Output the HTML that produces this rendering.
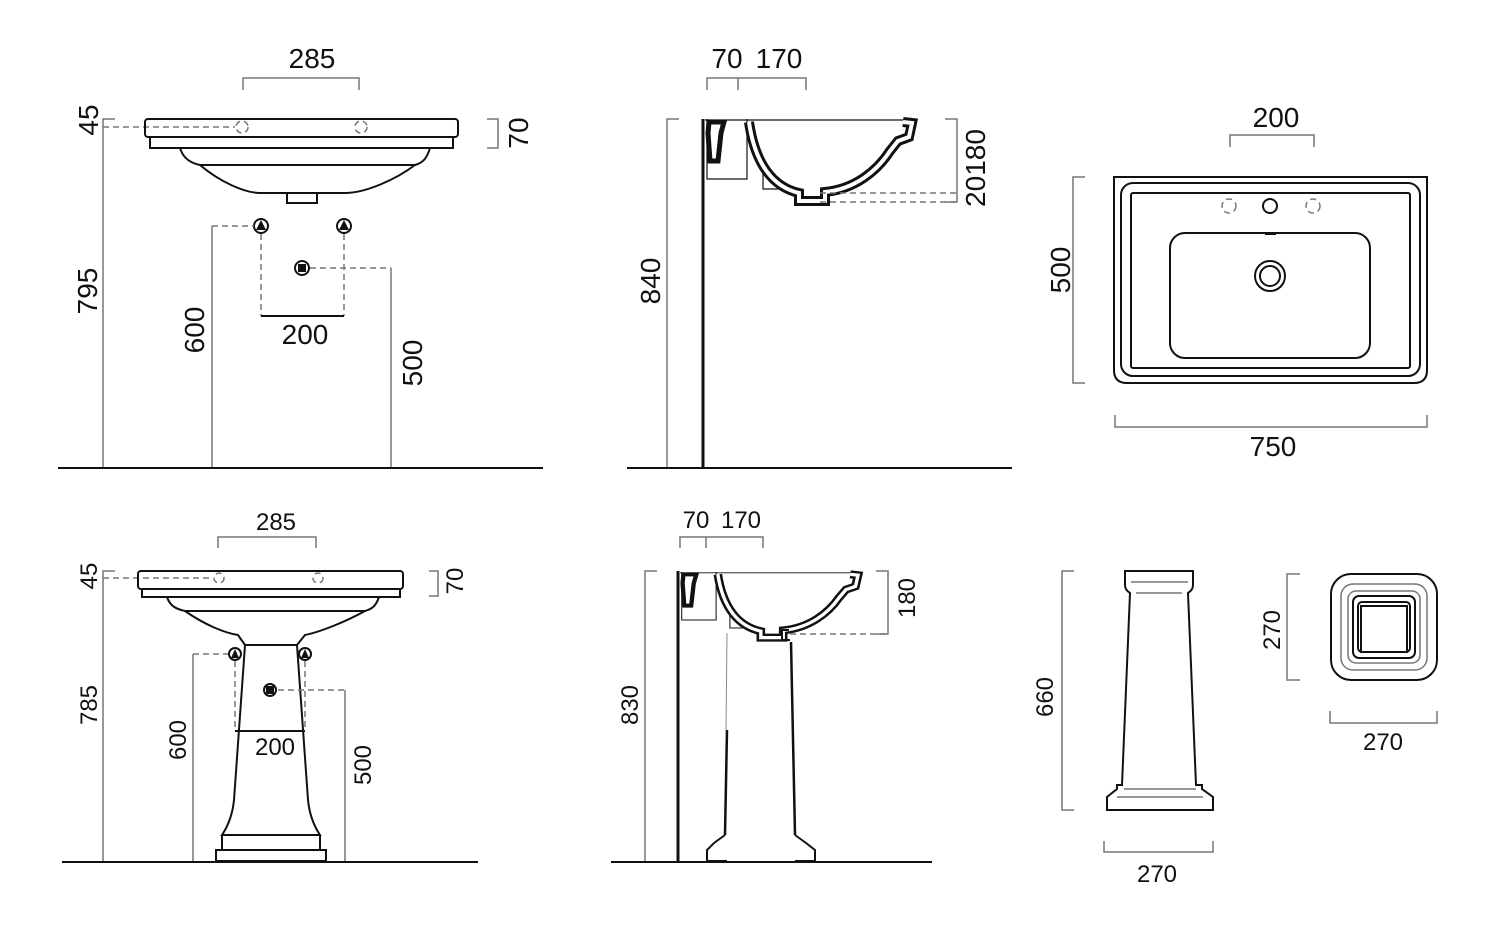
<!DOCTYPE html>
<html><head><meta charset="utf-8"><style>
html,body{margin:0;padding:0;background:#fff}
svg{display:block}
text{font-family:"Liberation Sans Narrow","Liberation Sans",sans-serif;fill:#111}
.g{stroke:#777;stroke-width:1.5;fill:none}
.k{stroke:#111;stroke-width:2;fill:none}
.d{stroke:#777;stroke-width:1.5;fill:none;stroke-dasharray:6 4}
.t{stroke:#111;stroke-width:1.2;fill:none}
</style></head><body>
<svg width="1500" height="933" viewBox="0 0 1500 933" xmlns="http://www.w3.org/2000/svg">
<defs>
<g id="sec">
  <line x1="0" y1="1" x2="205" y2="1" class="t"/>
  <path d="M2,0 V60 H42 V0" class="t" stroke="#666"/>
  <path d="M58,55 V70 H96" class="t" stroke="#666"/>
  <path d="M4,3 H19 L16,14 L13,42 H5 L3,14 Z" fill="none" stroke="#111" stroke-width="5"/>
  <path d="M44,3 C50,45 68,68 94,74 L94,82 L120,82 L120,73 C150,70 172,52 185,32 L193,22 L204,18 L207,4 L198,3" fill="none" stroke="#111" stroke-width="10"/>
  <path d="M44,3 C50,45 68,68 94,74 L94,82 L120,82 L120,73 C150,70 172,52 185,32 L193,22 L204,18 L207,4 L198,3" fill="none" stroke="#fff" stroke-width="4"/>
</g>
</defs>

<!-- ===== TOP LEFT ===== -->
<text x="312" y="68" font-size="28" text-anchor="middle">285</text>
<path d="M243,90 V78 H359 V90" class="g"/>
<text transform="translate(98,120) rotate(-90)" font-size="28" text-anchor="middle">45</text>
<path d="M115,119 H103 V467" class="g"/>
<line x1="103" y1="127" x2="235" y2="127" class="d"/>
<rect x="145" y="119" width="313" height="18" rx="3" class="k"/>
<path d="M150,137 V148 H453 V137" class="k"/>
<path d="M180,148 C183,158 190,163 200,165 C220,182 245,193 260,193 H345 C365,193 395,180 415,165 C423,163 427,158 430,148" class="k"/>
<path d="M200,165 H415" class="k" stroke-width="1"/>
<path d="M287,193 V203 H317 V193" class="k"/>
<circle cx="242" cy="127" r="6" class="d" stroke-dasharray="3 2"/>
<circle cx="361" cy="127" r="6" class="d" stroke-dasharray="3 2"/>
<path d="M487,119 H498 V148 H487" class="g"/>
<text transform="translate(528,133) rotate(-90)" font-size="28" text-anchor="middle">70</text>
<circle cx="261" cy="226" r="7" class="k" stroke-width="1.2"/><path d="M256,230 L261,220 L266,230 Z" fill="#111"/>
<circle cx="344" cy="226" r="7" class="k" stroke-width="1.2"/><path d="M339,230 L344,220 L349,230 Z" fill="#111"/>
<circle cx="302" cy="268" r="7" class="k" stroke-width="1.2"/><rect x="298" y="264" width="8" height="8" fill="#111"/>
<path d="M212,467 V226" class="g"/>
<line x1="212" y1="226" x2="254" y2="226" class="d"/>
<text transform="translate(204,330) rotate(-90)" font-size="28" text-anchor="middle">600</text>
<line x1="261" y1="234" x2="261" y2="316" class="d"/>
<line x1="344" y1="234" x2="344" y2="316" class="d"/>
<line x1="261" y1="316" x2="344" y2="316" class="k" stroke-width="1.5"/>
<text x="305" y="344" font-size="28" text-anchor="middle">200</text>
<line x1="310" y1="268" x2="391" y2="268" class="d"/>
<line x1="391" y1="268" x2="391" y2="467" class="g"/>
<text transform="translate(422,363) rotate(-90)" font-size="28" text-anchor="middle">500</text>
<text transform="translate(97,291) rotate(-90)" font-size="28" text-anchor="middle">795</text>
<line x1="58" y1="468" x2="543" y2="468" class="k" stroke-width="1.5"/>

<!-- ===== TOP MIDDLE ===== -->
<text x="727" y="68" font-size="28" text-anchor="middle">70</text>
<text x="779" y="68" font-size="28" text-anchor="middle">170</text>
<path d="M707,90 V78 H806 V90 M738,78 V90" class="g"/>
<line x1="703" y1="119" x2="703" y2="468" stroke="#111" stroke-width="3"/>
<path d="M679,119 H667 V467" class="g"/>
<text transform="translate(660,281) rotate(-90)" font-size="28" text-anchor="middle">840</text>
<line x1="627" y1="468" x2="1012" y2="468" class="k" stroke-width="1.5"/>
<use href="#sec" transform="translate(705,119)"/>
<path d="M945,119 H957 V202 H945" class="g"/>
<line x1="820" y1="193" x2="957" y2="193" class="d"/>
<line x1="820" y1="202" x2="957" y2="202" class="d"/>
<text transform="translate(985,168) rotate(-90)" font-size="28" text-anchor="middle">20180</text>

<!-- ===== TOP RIGHT ===== -->
<text x="1276" y="127" font-size="28" text-anchor="middle">200</text>
<path d="M1230,147 V135 H1314 V147" class="g"/>
<path d="M1114,177 H1427 V370 Q1427,383 1414,383 H1127 Q1114,383 1114,370 Z" class="k"/>
<rect x="1121" y="183" width="299" height="193" rx="12" class="k"/>
<rect x="1131" y="193" width="279" height="175" rx="2" class="k" stroke-width="1.5"/>
<rect x="1170" y="233" width="200" height="125" rx="15" class="k" stroke-width="1.5"/>
<circle cx="1229" cy="206" r="7" class="d" stroke="#333" stroke-dasharray="3 2"/>
<circle cx="1270" cy="206" r="7" class="k" stroke-width="1.5"/>
<circle cx="1313" cy="206" r="7" class="d" stroke="#333" stroke-dasharray="3 2"/>
<circle cx="1270" cy="276" r="15" class="k" stroke-width="1.5"/>
<circle cx="1270" cy="276" r="10" class="k" stroke-width="1.5"/>
<path d="M1265,234 H1276" class="k" stroke-width="3"/>
<path d="M1085,177 H1073 V383 H1085" class="g"/>
<text transform="translate(1070,270) rotate(-90)" font-size="28" text-anchor="middle">500</text>
<path d="M1115,415 V427 H1427 V415" class="g"/>
<text x="1273" y="456" font-size="28" text-anchor="middle">750</text>

<!-- ===== BOTTOM LEFT ===== -->
<text x="276" y="530" font-size="24" text-anchor="middle">285</text>
<path d="M218,548 V537 H316 V548" class="g"/>
<text transform="translate(97,576) rotate(-90)" font-size="24" text-anchor="middle">45</text>
<path d="M115,571 H103 V861" class="g"/>
<line x1="103" y1="578" x2="213" y2="578" class="d"/>
<circle cx="219" cy="578" r="5" class="d" stroke-dasharray="3 2"/>
<circle cx="318" cy="578" r="5" class="d" stroke-dasharray="3 2"/>
<rect x="138" y="571" width="265" height="18" rx="3" class="k"/>
<path d="M142,589 V597 H400 V589" class="k"/>
<path d="M167,597 C170,606 176,609 185,611 C205,625 225,633 238,635 L245,645 M297,645 L305,635 C320,632 345,622 365,611 C372,609 376,606 379,597" class="k"/>
<path d="M185,611 H365" class="k" stroke-width="1"/>
<path d="M245,645 H297 L308,800 Q310,820 320,835 H222 Q232,820 234,800 Z" class="k"/>
<path d="M222,835 V850 H320 V835 M216,850 H326 V861 H216 Z" class="k"/>
<circle cx="235" cy="654" r="6" class="k" stroke-width="1.2"/><path d="M231,658 L235,649 L239,658 Z" fill="#111"/>
<circle cx="305" cy="654" r="6" class="k" stroke-width="1.2"/><path d="M301,658 L305,649 L309,658 Z" fill="#111"/>
<circle cx="270" cy="690" r="6" class="k" stroke-width="1.2"/><rect x="266" y="686" width="8" height="8" fill="#111"/>
<path d="M193,861 V654" class="g"/>
<line x1="193" y1="654" x2="228" y2="654" class="d"/>
<text transform="translate(186,740) rotate(-90)" font-size="24" text-anchor="middle">600</text>
<line x1="235" y1="661" x2="235" y2="731" class="d"/>
<line x1="305" y1="661" x2="305" y2="731" class="d"/>
<line x1="235" y1="731" x2="305" y2="731" class="k" stroke-width="1.2"/>
<text x="275" y="755" font-size="24" text-anchor="middle">200</text>
<line x1="278" y1="690" x2="345" y2="690" class="d"/>
<line x1="345" y1="690" x2="345" y2="861" class="g"/>
<text transform="translate(371,765) rotate(-90)" font-size="24" text-anchor="middle">500</text>
<text transform="translate(97,705) rotate(-90)" font-size="24" text-anchor="middle">785</text>
<path d="M429,571 H438 V596 H429" class="g"/>
<text transform="translate(463,581) rotate(-90)" font-size="24" text-anchor="middle">70</text>
<line x1="62" y1="862" x2="478" y2="862" class="k" stroke-width="1.5"/>

<!-- ===== BOTTOM MIDDLE ===== -->
<text x="696" y="528" font-size="24" text-anchor="middle">70</text>
<text x="741" y="528" font-size="24" text-anchor="middle">170</text>
<path d="M680,548 V537 H763 V548 M706,537 V548" class="g"/>
<line x1="678" y1="571" x2="678" y2="862" stroke="#111" stroke-width="3"/>
<path d="M657,571 H645 V861" class="g"/>
<text transform="translate(638,705) rotate(-90)" font-size="24" text-anchor="middle">830</text>
<line x1="611" y1="862" x2="932" y2="862" class="k" stroke-width="1.5"/>
<use href="#sec" transform="translate(680,572) scale(0.86,0.8)"/>
<path d="M876,571 H888 V634 H876" class="g"/>
<line x1="790" y1="634" x2="888" y2="634" class="d"/>
<text transform="translate(915,598) rotate(-90)" font-size="24" text-anchor="middle">180</text>
<path d="M727,633 L726,730" stroke="#888" stroke-width="1"/>
<path d="M727,730 L725,835" stroke="#111" stroke-width="2.5"/>
<path d="M791,642 L795,835" stroke="#111" stroke-width="2.5"/>
<path d="M789,630 H782 V640 H790" class="k" stroke-width="2.5"/>
<path d="M725,835 L714,843 L707,850 V861 H727" class="k" stroke-width="2.5"/>
<path d="M795,835 L806,843 L815,850 V861 H795" class="k" stroke-width="2.5"/>

<!-- ===== BOTTOM RIGHT ===== -->
<path d="M1074,571 H1062 V810 H1074" class="g"/>
<text transform="translate(1053,697) rotate(-90)" font-size="24" text-anchor="middle">660</text>
<path d="M1125,571 H1193 V585 Q1193,590 1188,593 L1196,785 H1202 V789 L1213,797 V810 H1107 V797 L1117,789 V785 H1122 L1130,593 Q1125,590 1125,585 Z" class="k" stroke-width="1.8"/>
<line x1="1131" y1="582" x2="1188" y2="582" class="g" stroke-width="1"/>
<line x1="1136" y1="593" x2="1182" y2="593" class="g" stroke-width="1"/>
<line x1="1124" y1="789" x2="1196" y2="789" class="g" stroke-width="1"/>
<line x1="1117" y1="797" x2="1203" y2="797" class="g" stroke-width="1"/>
<path d="M1104,841 V852 H1213 V841" class="g"/>
<text x="1157" y="882" font-size="24" text-anchor="middle">270</text>
<path d="M1300,574 H1287 V680 H1300" class="g"/>
<text transform="translate(1280,630) rotate(-90)" font-size="24" text-anchor="middle">270</text>
<rect x="1331" y="574" width="106" height="106" rx="20" class="k" stroke-width="2"/>
<rect x="1341" y="584" width="86" height="86" rx="12" class="g" stroke-width="1"/>
<rect x="1348" y="591" width="72" height="72" rx="8" class="g" stroke-width="1"/>
<rect x="1353" y="596" width="62" height="62" rx="6" class="k" stroke-width="1.2"/>
<rect x="1358" y="602" width="52" height="50" rx="4" class="k" stroke-width="1.2"/>
<path d="M1361,606 H1407 V652 H1361 Z" class="k" stroke-width="1"/>
<path d="M1330,711 V723 H1437 V711" class="g"/>
<text x="1383" y="750" font-size="24" text-anchor="middle">270</text>
</svg>
</body></html>
